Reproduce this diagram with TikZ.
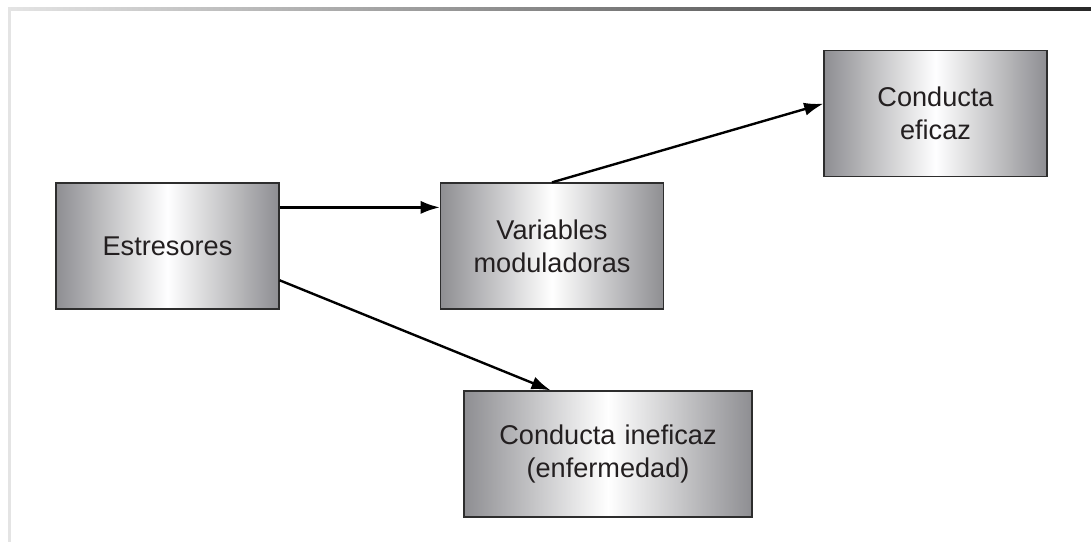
\documentclass[tikz,border=0pt]{standalone}
\usepackage{fontspec}
\setmainfont{Liberation Sans}
\usepackage{tikz}
\usetikzlibrary{arrows.meta}
\definecolor{boxedge}{RGB}{142,142,146}
\definecolor{boxline}{RGB}{45,45,45}
\definecolor{inktext}{RGB}{35,31,32}
\definecolor{framelight}{RGB}{228,228,228}
\definecolor{framedark}{RGB}{40,40,40}

\begin{document}
\begin{tikzpicture}[x=0.025cm, y=-0.025cm, >={Latex[length=4.8mm,width=3.3mm]}]

			\tikzstyle{box}=[rectangle, draw=boxline, line width=0.9pt, minimum width=5.575cm, minimum height=3.15cm, text width=5.2cm, align=center, left color=boxedge, right color=boxedge, middle color=white, text=inktext, font=\fontsize{19.3}{23.5}\selectfont]
			\tikzstyle{widebox}=[box, minimum width=7.2cm, text width=6.8cm]
			\tikzstyle{link}=[->, line width=1.7pt, draw=black]

			\useasboundingbox (0,0) rectangle (1091,542);

			% frame of the page
			\shade[left color=framelight, right color=framedark] (8,7) rectangle (1091,10);
			\fill[framelight] (8,9) rectangle (11,542);

			\node at (167.5,246) (estresores) [box] {Estresores};
			\node at (552,246) (variables) [box] {Variables\\ moduladoras};
			\node at (935.5,113.5) (eficaz) [box] {Conducta\\ eficaz};
			\node at (608,454) (ineficaz) [widebox] {Conducta ineficaz\\ (enfermedad)};

			\draw[link] (estresores.19) -- (estresores.19 -| variables.west);
			\draw[link] (variables.north) -- (eficaz.175);
			\draw[link] (estresores.-17) -- (ineficaz.132);
		\end{tikzpicture}
\end{document}
